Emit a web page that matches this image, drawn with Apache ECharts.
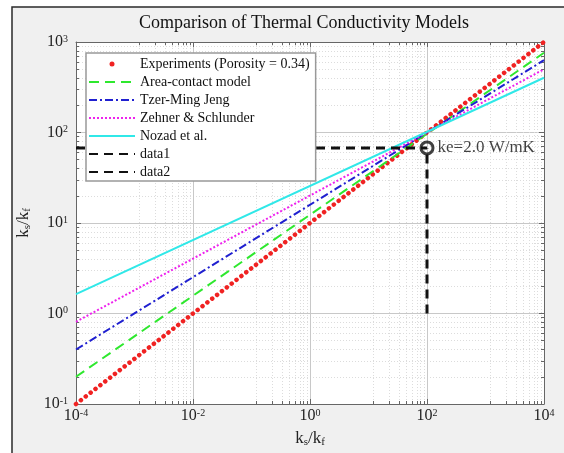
<!DOCTYPE html>
<html>
<head>
<meta charset="utf-8">
<script src="https://cdn.jsdelivr.net/npm/echarts@6/dist/echarts.min.js"></script>
<style>
html, body { margin: 0; padding: 0; background: #fff; }
#chart { width: 564px; height: 453px; }
</style>
</head>
<body>
<div id="chart"></div>
<script>
// end points of each model line (log-log straight lines), x = ks/kf
const xEnds = [1e-4, 1e4];
const experiments = [0.1, 1000];
const areaContact = [0.2, 760];
const tzerMingJeng = [0.4, 630];
const zehner = [0.81, 500];
const nozad = [1.64, 403];

// guide lines + marked point
const data1X = [1e-4, 100];
const data1Y = [67.6, 67.6];
const data2X = [100, 100];
const data2Y = [1, 67.6];
const kePoint = [100, 67.6];
const keLabel = 'ke=2.0 W/mK';

const names = ['Experiments (Porosity = 0.34)', 'Area-contact model', 'Tzer-Ming Jeng',
  'Zehner & Schlunder', 'Nozad et al.', 'data1', 'data2'];

const FONT = 'Liberation Serif';

function pairs(xs, ys) {
  return xs.map((x, i) => [x, ys[i]]);
}

function powLabel(v) {
  const e = Math.round(Math.log10(v));
  return '{b|10}{s|' + e + '}';
}
const powRich = {
  b: { fontFamily: FONT, fontSize: 16, lineHeight: 16, color: '#222' },
  s: { fontFamily: FONT, fontSize: 10, lineHeight: 10, verticalAlign: 'top', color: '#222' }
};
const nameRich = {
  n: { fontFamily: FONT, fontSize: 17, lineHeight: 18, color: '#222' },
  sub: { fontFamily: FONT, fontSize: 11, lineHeight: 8, verticalAlign: 'bottom', color: '#222' }
};
const axisName = '{n|k}{sub|s}{n|/k}{sub|f}';

function lineSeries(name, data, color, type, width) {
  return {
    name: name,
    type: 'line',
    data: data,
    symbol: 'none',
    clip: false,
    lineStyle: { color: color, width: width || 2, type: type },
    itemStyle: { color: color },
    z: 3
  };
}

const chart = echarts.init(document.getElementById('chart'), null, { renderer: 'canvas' });

const baseAxis = {
  type: 'log',
  logBase: 10,
  axisLine: { show: true, lineStyle: { color: '#666', width: 1 } },
  axisTick: { show: true, inside: true, length: 5, lineStyle: { color: '#666' } },
  minorTick: { show: true, splitNumber: 9, length: 3, lineStyle: { color: '#666' } }
};

chart.setOption({
  backgroundColor: 'transparent',
  animation: false,
  graphic: [{
    type: 'rect',
    shape: { x: 12, y: 7, width: 800, height: 700 },
    style: { fill: '#f0f0f0', stroke: '#2a2a2a', lineWidth: 1.5 },
    z: -10
  }],
  title: {
    text: 'Comparison of Thermal Conductivity Models',
    left: 134,
    top: 9,
    textStyle: { fontFamily: FONT, fontSize: 18, fontWeight: 'normal', color: '#111' }
  },
  grid: {
    left: 76, right: 20, top: 42, bottom: 49,
    show: true, backgroundColor: '#fff', borderWidth: 0
  },
  legend: {
    orient: 'vertical',
    left: 86, top: 53,
    padding: [4, 6, 2, 2],
    itemWidth: 46, itemHeight: 5, itemGap: 4,
    backgroundColor: '#fff',
    borderColor: '#999', borderWidth: 1.5,
    itemStyle: { opacity: 0 },
    textStyle: { fontFamily: FONT, fontSize: 14, lineHeight: 13.8, color: '#111' },
    data: [
      { name: names[0], icon: 'circle', itemStyle: { opacity: 1, color: '#f02222' } },
      names[1], names[2], names[3], names[4], names[5], names[6]
    ]
  },
  xAxis: [
    Object.assign({}, baseAxis, {
      min: 1e-4, max: 1e4, interval: 2,
      position: 'bottom',
      axisLabel: { formatter: powLabel, rich: powRich, margin: 4 },
      splitLine: { show: true, lineStyle: { color: '#c8c8c8', width: 1 } },
      minorSplitLine: { show: true, lineStyle: { color: '#dcdcdc', type: [1, 2] } },
      name: axisName,
      nameLocation: 'middle',
      nameGap: 26,
      nameTextStyle: { rich: nameRich }
    }),
    Object.assign({}, baseAxis, {
      min: 1e-4, max: 1e4, interval: 2,
      position: 'top',
      axisLabel: { show: false },
      splitLine: { show: false }
    })
  ],
  yAxis: [
    Object.assign({}, baseAxis, {
      min: 0.1, max: 1000,
      position: 'left',
      axisLabel: { formatter: powLabel, rich: powRich, margin: 8 },
      splitLine: { show: true, lineStyle: { color: '#c8c8c8', width: 1 } },
      minorSplitLine: { show: true, lineStyle: { color: '#dcdcdc', type: [1, 2] } },
      name: axisName,
      nameLocation: 'middle',
      nameRotate: 90,
      nameGap: 40,
      nameTextStyle: { rich: nameRich }
    }),
    Object.assign({}, baseAxis, {
      min: 0.1, max: 1000,
      position: 'right',
      axisLabel: { show: false },
      splitLine: { show: false }
    })
  ],
  series: [
    {
      name: names[0],
      type: 'line',
      data: pairs(xEnds, experiments),
      symbol: 'none',
      clip: false,
      lineStyle: { color: '#f02222', width: 4.5, type: [0.1, 6.05], cap: 'round' },
      itemStyle: { color: '#f02222' },
      z: 3
    },
    lineSeries(names[1], pairs(xEnds, areaContact), '#2ee82e', [10, 6]),
    lineSeries(names[2], pairs(xEnds, tzerMingJeng), '#2020d0', [8, 3, 2, 3]),
    lineSeries(names[3], pairs(xEnds, zehner), '#ee22ee', [2, 2]),
    lineSeries(names[4], pairs(xEnds, nozad), '#30e8e8', 'solid'),
    lineSeries(names[5], pairs(data1X, data1Y), '#111', [9, 6], 3),
    lineSeries(names[6], pairs(data2X, data2Y), '#111', [9, 6], 3),
    {
      type: 'scatter',
      data: [kePoint],
      symbol: 'circle',
      symbolSize: 12,
      itemStyle: { color: 'rgba(0,0,0,0)', borderColor: '#111', borderWidth: 3 },
      label: {
        show: true,
        position: 'right',
        distance: 3,
        formatter: keLabel,
        fontFamily: FONT,
        fontSize: 17,
        color: '#111'
      },
      z: 5
    }
  ]
});
</script>
</body>
</html>
